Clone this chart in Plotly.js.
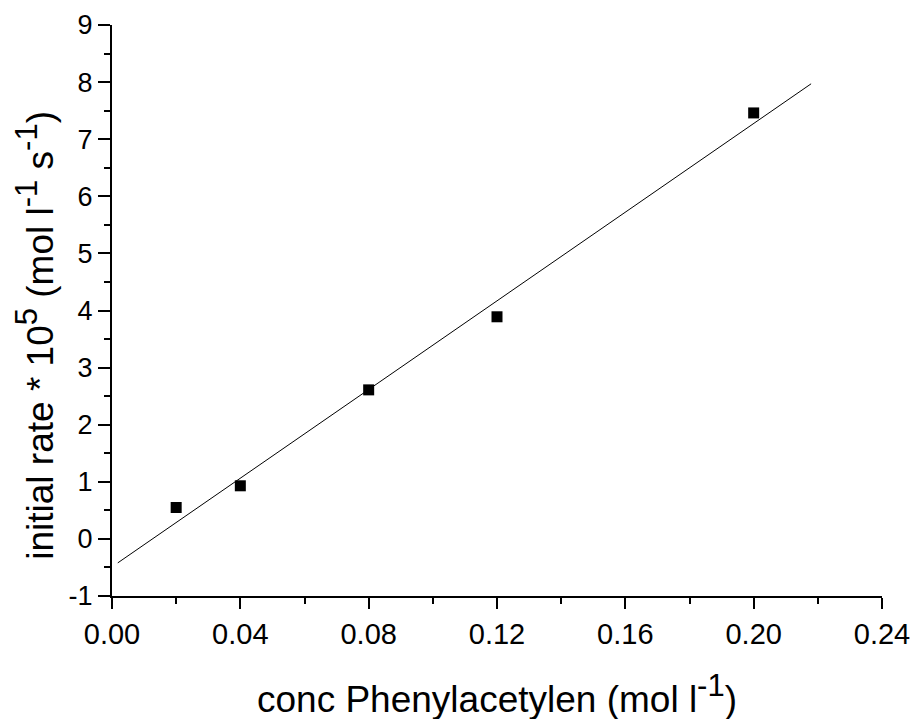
<!DOCTYPE html>
<html><head><meta charset="utf-8">
<script src="https://cdn.plot.ly/plotly-3.0.1.min.js"></script>
<style>html,body{margin:0;padding:0;background:#fff}</style>
</head><body>
<div id="chart" style="width:913px;height:719px"></div>
<script>
const concX = [0.02, 0.04, 0.08, 0.12, 0.20];
const rateY = [0.55, 0.93, 2.61, 3.89, 7.46];
const fitX = [0.0018, 0.2179];
const fitY = [-0.42, 7.97];
const xTickVals = [0, 0.04, 0.08, 0.12, 0.16, 0.20, 0.24];
const xTickText = ['0.00', '0.04', '0.08', '0.12', '0.16', '0.20', '0.24'];
const yTickVals = [-1, 0, 1, 2, 3, 4, 5, 6, 7, 8, 9];
const yTickText = ['-1', '0', '1', '2', '3', '4', '5', '6', '7', '8', '9'];
const sup = s => '<sup><span style="font-size:31px">' + s + '</span></sup>';
const xTitle = 'conc Phenylacetylen (mol l' + sup('-1') + ')';
const yTitle = 'initial rate * 10' + sup('5') + ' (mol l' + sup('-1') + ' s' + sup('-1') + ')';

const font = 'Liberation Sans, Arial, sans-serif';
const data = [
  {x: fitX, y: fitY, mode: 'lines', line: {color: '#000', width: 1}, hoverinfo: 'skip'},
  {x: concX, y: rateY, mode: 'markers', marker: {symbol: 'square', size: 11, color: '#000'}}
];
const axisCommon = {
  showgrid: false, zeroline: false, showline: true, linecolor: '#000', linewidth: 2,
  ticks: 'outside', tickwidth: 2, tickcolor: '#000', tickmode: 'array', fixedrange: true
};
const layout = {
  width: 913, height: 719,
  margin: {l: 112, r: 31, t: 25, b: 122.5},
  showlegend: false,
  paper_bgcolor: '#fff', plot_bgcolor: '#fff',
  font: {family: font, color: '#000', size: 27},
  xaxis: Object.assign({}, axisCommon, {
    range: [0, 0.24], tickvals: xTickVals, ticktext: xTickText, ticklen: 11,
    minor: {tickmode: 'linear', tick0: 0, dtick: 0.02, ticks: 'outside', ticklen: 6, tickwidth: 2, tickcolor: '#000', showgrid: false},
    tickfont: {size: 29}
  }),
  yaxis: Object.assign({}, axisCommon, {
    range: [-1, 9], tickvals: yTickVals, ticktext: yTickText, ticklen: 12,
    minor: {tickmode: 'linear', tick0: 0, dtick: 0.5, ticks: 'outside', ticklen: 6, tickwidth: 2, tickcolor: '#000', showgrid: false},
    tickfont: {size: 27}
  }),
  annotations: [
    {text: xTitle, xref: 'paper', yref: 'paper', x: 0.5, y: -(695-596.5)/571.5,
     xanchor: 'center', yanchor: 'middle', showarrow: false, font: {size: 37}},
    {text: yTitle, xref: 'paper', yref: 'paper', x: -(112-35)/770, y: (596.5-336)/571.5,
     xanchor: 'center', yanchor: 'middle', showarrow: false, textangle: -90, font: {size: 37}}
  ]
};
Plotly.newPlot('chart', data, layout, {displayModeBar: false, staticPlot: true});
</script>
</body></html>
